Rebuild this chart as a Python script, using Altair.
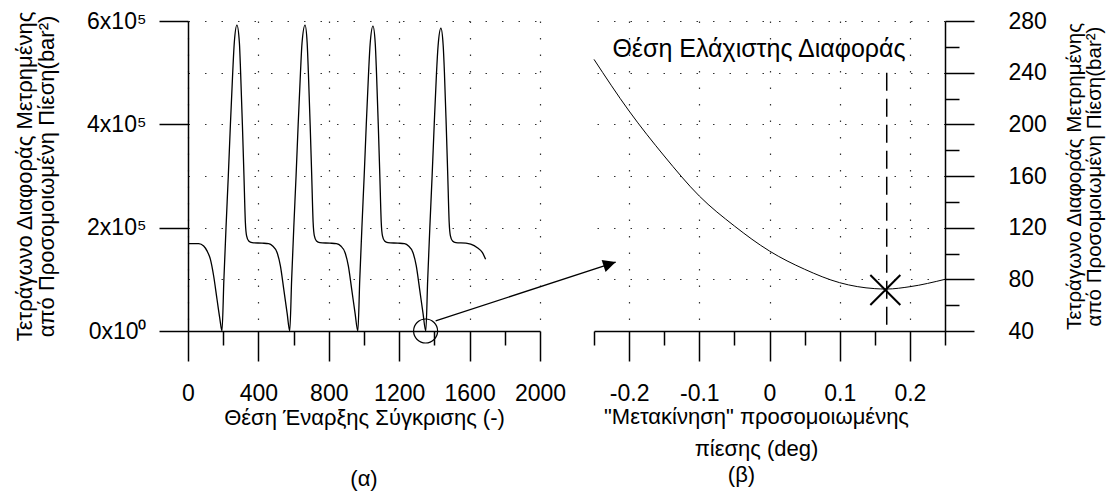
import altair as alt
import pandas as pd

FONT = "Liberation Sans"

# ---------------- panel (α) : squared difference vs start position ----------------
a_pos = [0, 40, 61, 89, 108, 127, 146, 165, 180, 193,
         204, 216, 229, 241, 254, 263, 278, 292, 299, 309, 318, 326, 333, 345, 364, 421, 458, 481, 506, 525, 544, 563, 578,
         589, 601, 614, 626, 639, 648, 665, 677, 684, 694, 703, 711, 718, 730, 749, 806, 843, 868, 892, 911, 930, 949, 965,
         976, 988, 1001, 1013, 1026, 1035, 1051, 1064, 1071, 1081, 1090, 1098, 1105, 1117, 1136, 1193, 1230, 1253, 1278, 1297, 1316, 1335, 1351,
         1362, 1374, 1387, 1399, 1412, 1421, 1437, 1450, 1457, 1467, 1476, 1484, 1491, 1503, 1522, 1579, 1606, 1644, 1672, 1691]
a_diff = [1.69e5, 1.69e5, 1.69e5, 1.645e5, 1.55e5, 1.39e5, 1.06e5, 0.61e5, 0.26e5, 0,
          1.0e5, 2.0e5, 3.0e5, 4.0e5, 5.0e5, 5.58e5, 5.92e5, 5.58e5, 5.0e5, 4.0e5, 3.0e5, 2.1e5, 1.84e5, 1.74e5, 1.71e5, 1.70e5, 1.69e5, 1.645e5, 1.52e5, 1.26e5, 0.81e5, 0.35e5, 0,
          1.0e5, 2.0e5, 3.0e5, 4.0e5, 5.0e5, 5.58e5, 5.92e5, 5.58e5, 5.0e5, 4.0e5, 3.0e5, 2.1e5, 1.84e5, 1.74e5, 1.71e5, 1.70e5, 1.69e5, 1.645e5, 1.52e5, 1.26e5, 0.81e5, 0.35e5, 0,
          1.0e5, 2.0e5, 3.0e5, 4.0e5, 5.0e5, 5.56e5, 5.90e5, 5.56e5, 5.0e5, 4.0e5, 3.0e5, 2.1e5, 1.84e5, 1.74e5, 1.71e5, 1.70e5, 1.69e5, 1.645e5, 1.52e5, 1.26e5, 0.81e5, 0.35e5, 0,
          1.0e5, 2.0e5, 3.0e5, 4.0e5, 5.0e5, 5.52e5, 5.86e5, 5.52e5, 5.0e5, 4.0e5, 3.0e5, 2.1e5, 1.84e5, 1.74e5, 1.71e5, 1.70e5, 1.68e5, 1.61e5, 1.52e5, 1.39e5]

a_x_ticks = [0, 200, 400, 600, 800, 1000, 1200, 1400, 1600, 1800, 2000]
a_x_labels = ["0", "", "400", "", "800", "", "1200", "", "1600", "", "2000"]
a_y_ticks = [0, 100000, 200000, 300000, 400000, 500000, 600000]
a_y_labels = ["0x10⁰", "", "2x10⁵", "", "4x10⁵", "", "6x10⁵"]

# annotation: circle round the last minimum and arrow to panel (β)
circle_x = [1350]
circle_y = [0]
arrow_x = [1407]
arrow_y = [19400]
arrow_x2 = [2430]
arrow_y2 = [133500]

# ---------------- panel (β) : squared difference vs shift ----------------
b_shift = [-0.25, -0.2, -0.15, -0.1, -0.05, 0.0, 0.05, 0.1, 0.15, 0.167, 0.2, 0.25]
b_diff = [250.3, 210.3, 175.5, 144.5, 121.3, 101.9, 87.8, 77.4, 72.8, 72.5, 74.3, 80.0]

b_x_ticks = [-0.25, -0.2, -0.15, -0.1, -0.05, 0.0, 0.05, 0.1, 0.15, 0.2, 0.25]
b_x_labels = ["", "-0.2", "", "-0.1", "", "0", "", "0.1", "", "0.2", ""]
b_y_ticks = [40, 60, 80, 100, 120, 140, 160, 180, 200, 220, 240, 260, 280]
b_y_labels = ["40", "", "80", "", "120", "", "160", "", "200", "", "240", "", "280"]

min_x = [0.165]
min_y = [71.7]
vline_x = [0.167]
vline_top = [240]
vline_bottom = [40]
note_x = [-0.015]
note_y = [258]
note_text = ["Θέση Ελάχιστης Διαφοράς"]


def pick_expr(values, labels, tol):
    expr = "''"
    for v, lab in reversed(list(zip(values, labels))):
        expr = f"(abs(datum.value - ({v})) < {tol} ? '{lab}' : {expr})"
    return expr


DOT = [1.5, 15]
GRID_COLOR = "#333333"
LBL = 23

# ---------- left panel ----------
a_major_x = "datum.value % 400 == 0"
a_major_y = "datum.value % 200000 == 0"

ax_a_x = alt.Axis(
    values=a_x_ticks, tickCount=50,
    labelExpr=pick_expr(a_x_ticks, a_x_labels, 0.5),
    tickSize={"condition": {"test": a_major_x, "value": 30}, "value": 14},
    grid=True,
    gridOpacity={"condition": {"test": a_major_x, "value": 1}, "value": 0},
    gridDash=DOT, gridColor=GRID_COLOR, gridWidth=1.2,
    title="Θέση Έναρξης Σύγκρισης (-)",
    titlePadding=2,
    labelPadding=21,
    labelOverlap=False, labelFlush=False, labelBound=False,
)
ax_a_y = alt.Axis(
    values=a_y_ticks, tickCount=50,
    labelExpr=pick_expr(a_y_ticks, a_y_labels, 0.5),
    tickSize=29,
    tickOpacity={"condition": {"test": a_major_y, "value": 1}, "value": 0},
    grid=True,
    gridDash=DOT, gridColor=GRID_COLOR, gridWidth=1.2,
    title=["Τετράγωνο Διαφοράς Μετρημένης", "από Προσομοιωμένη Πίεση(bar²)"],
    titleFontSize=22, titleLineHeight=22, titlePadding=28,
    labelPadding=13,
    labelOverlap=False, labelFlush=False, labelBound=False,
)

df_a = pd.DataFrame({"x": a_pos, "y": a_diff})
xs_a = alt.Scale(domain=[0, 2000], nice=False, zero=False)
ys_a = alt.Scale(domain=[0, 600000], nice=False, zero=False)

curve_a = alt.Chart(df_a).mark_line(color="black", strokeWidth=1.3, interpolate="monotone").encode(
    x=alt.X("x:Q", scale=xs_a, axis=ax_a_x),
    y=alt.Y("y:Q", scale=ys_a, axis=ax_a_y),
)
circ = alt.Chart(pd.DataFrame({"x": circle_x, "y": circle_y})).mark_point(
    shape="circle", size=576, filled=False, color="black", strokeWidth=1.2, opacity=1, clip=False
).encode(x=alt.X("x:Q", scale=xs_a), y=alt.Y("y:Q", scale=ys_a))
arrow_df = pd.DataFrame({"x": arrow_x, "y": arrow_y, "x2": arrow_x2, "y2": arrow_y2})
shaft = alt.Chart(arrow_df).mark_rule(color="black", strokeWidth=1.3, clip=False).encode(
    x=alt.X("x:Q", scale=xs_a), y=alt.Y("y:Q", scale=ys_a), x2="x2:Q", y2="y2:Q"
)
head = alt.Chart(arrow_df).mark_point(
    shape="M0,0L-2,-1L-2,1Z", size=161, filled=True, color="black", opacity=1, angle=342, clip=False
).encode(x=alt.X("x2:Q", scale=xs_a), y=alt.Y("y2:Q", scale=ys_a))

left = alt.layer(curve_a, circ, shaft, head).properties(
    width=352, height=310,
    title=alt.Title("(α)", orient="bottom", fontSize=22, font=FONT, fontWeight="normal", offset=41),
)

# ---------- right panel ----------
b_major_x = "abs(round(datum.value * 20)) % 2 == 0"
b_major_y = "datum.value % 40 == 0"

ax_b_x = alt.Axis(
    values=b_x_ticks, tickCount=50,
    labelExpr=pick_expr(b_x_ticks, b_x_labels, 1e-6),
    tickSize={"condition": {"test": b_major_x, "value": 30}, "value": 14},
    grid=True,
    gridOpacity={"condition": {"test": b_major_x + " && abs(datum.value) < 0.24", "value": 1}, "value": 0},
    gridDash=DOT, gridColor=GRID_COLOR, gridWidth=1.2,
    title=["\"Μετακίνηση\" προσομοιωμένης", "πίεσης (deg)"],
    titleLineHeight=32, titlePadding=1, titleX=162,
    labelPadding=21,
    labelOverlap=False, labelFlush=False, labelBound=False,
)
ax_b_y = alt.Axis(
    orient="right",
    values=b_y_ticks, tickCount=50,
    labelExpr=pick_expr(b_y_ticks, b_y_labels, 1e-6),
    tickSize={"condition": {"test": b_major_y, "value": 29}, "value": 14},
    grid=True,
    gridOpacity={"condition": {"test": b_major_y, "value": 1}, "value": 0},
    gridDash=DOT, gridColor=GRID_COLOR, gridWidth=1.2,
    title=["Τετράγωνο Διαφοράς Μετρημένης", "από Προσομοιωμένη Πίεση(bar²)"],
    titleFontSize=20.5, titleLineHeight=20, titleAngle=270, titlePadding=18,
    labelPadding=34,
    labelOverlap=False, labelFlush=False, labelBound=False,
)

df_b = pd.DataFrame({"x": b_shift, "y": b_diff})
xs_b = alt.Scale(domain=[-0.25, 0.25], nice=False, zero=False)
ys_b = alt.Scale(domain=[40, 280], nice=False, zero=False)

curve_b = alt.Chart(df_b).mark_line(color="black", strokeWidth=1.0, interpolate="monotone").encode(
    x=alt.X("x:Q", scale=xs_b, axis=ax_b_x),
    y=alt.Y("y:Q", scale=ys_b, axis=ax_b_y),
)
vline = alt.Chart(pd.DataFrame({"x": vline_x, "y": vline_top, "y2": vline_bottom})).mark_rule(
    color="black", strokeWidth=1.5, strokeDash=[18, 8]
).encode(x=alt.X("x:Q", scale=xs_b), y=alt.Y("y:Q", scale=ys_b), y2="y2:Q")
xmark = alt.Chart(pd.DataFrame({"x": min_x, "y": min_y})).mark_point(
    shape="M-1,-1L1,1M-1,1L1,-1", size=900, filled=False, color="black", strokeWidth=2, opacity=1
).encode(x=alt.X("x:Q", scale=xs_b), y=alt.Y("y:Q", scale=ys_b))
note = alt.Chart(pd.DataFrame({"x": note_x, "y": note_y, "t": note_text})).mark_text(
    font=FONT, fontSize=25, color="black", align="center", baseline="middle"
).encode(x=alt.X("x:Q", scale=xs_b), y=alt.Y("y:Q", scale=ys_b), text="t:N")

right = alt.layer(curve_b, vline, xmark, note).properties(
    width=351, height=310,
    title=alt.Title("(β)", orient="bottom", fontSize=22, font=FONT, fontWeight="normal", offset=6, dx=-28),
)

chart = alt.hconcat(left, right, spacing=54, bounds="flush").configure_view(
    strokeWidth=0
).configure_axis(
    labelFont=FONT, titleFont=FONT, labelFontSize=LBL, titleFontSize=22,
    labelColor="black", titleColor="black", titleFontWeight="normal",
    domainColor="black", tickColor="black", domainWidth=1.5, tickWidth=1.5,
).properties(
    padding={"left": 13, "top": 10, "right": 5, "bottom": 5}
)

chart.save("out.html", embed_options={"renderer": "svg", "actions": False})
